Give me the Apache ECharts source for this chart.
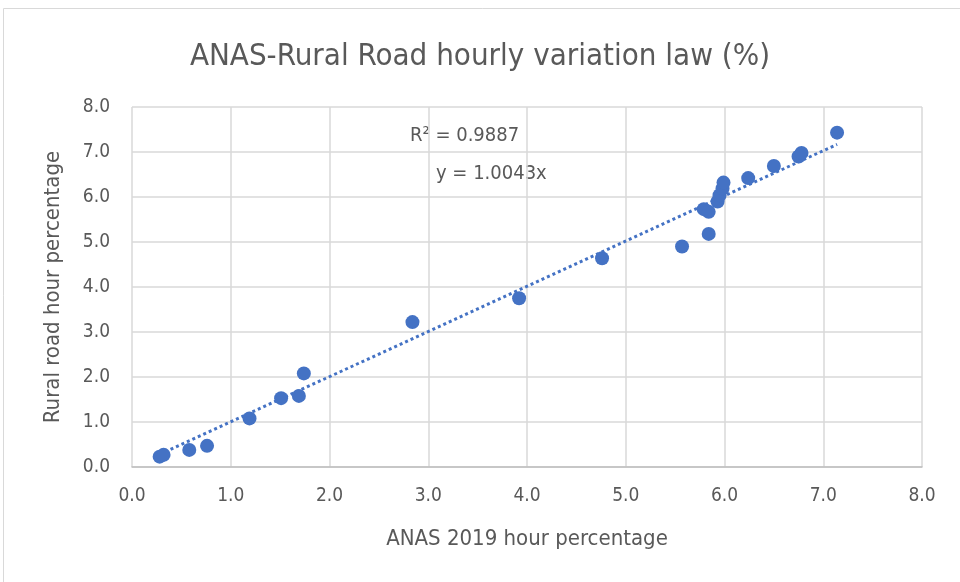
<!DOCTYPE html>
<html>
<head>
<meta charset="UTF-8">
<script src="https://cdn.jsdelivr.net/npm/echarts@6/dist/echarts.min.js"></script>
<style>
  html, body { margin: 0; padding: 0; background: #fff; }
  #c { width: 960px; height: 582px; }
</style>
</head>
<body>
<div id="c"></div>
<script>
// ANAS 2019 hour % (x) vs rural road hour % (y), 24 hours
const anasX = [0.28, 0.32, 0.58, 0.76, 1.19, 1.51, 1.69, 1.74, 2.84, 3.92, 4.76, 5.57,
               5.84, 5.79, 5.84, 5.93, 5.95, 5.98, 5.99, 6.24, 6.50, 6.75, 6.78, 7.14];
const ruralY = [0.23, 0.27, 0.38, 0.47, 1.08, 1.53, 1.58, 2.08, 3.22, 3.75, 4.64, 4.90,
                5.18, 5.73, 5.67, 5.90, 6.04, 6.19, 6.32, 6.42, 6.69, 6.90, 6.98, 7.43];
// linear trend through origin, y = 1.0043x
const trendX = [0.28, 7.14];
const trendY = [0.28, 7.17];
const axisTicks = ['0.0', '1.0', '2.0', '3.0', '4.0', '5.0', '6.0', '7.0', '8.0'];

const font = "'Liberation Sans Narrow', 'DejaVu Sans Condensed', 'Roboto', sans-serif";
const grey = '#595959';

const chart = echarts.init(document.getElementById('c'), null, { renderer: 'canvas' });

chart.setOption({
    animation: false,
    title: {
        text: 'ANAS-Rural Road hourly variation law (%)',
        left: 'center',
        top: 36,
        textStyle: { fontFamily: font, fontSize: 31, fontWeight: 'normal', color: grey }
    },
    graphic: [
        {
            type: 'rect',
            shape: { x: 3.5, y: 8.5, width: 970, height: 600 },
            style: { fill: 'none', stroke: '#d9d9d9', lineWidth: 1 },
            silent: true
        },
        {
            type: 'text', left: 410, top: 126,
            style: { text: 'R² = 0.9887', font: '20px ' + font, fill: grey }
        },
        {
            type: 'text', left: 436, top: 164,
            style: { text: 'y = 1.0043x', font: '20px ' + font, fill: grey }
        }
    ],
    grid: { left: 132, right: 38, top: 107, bottom: 115 },
    xAxis: {
        type: 'value', min: 0, max: 8, interval: 1,
        name: 'ANAS 2019 hour percentage',
        nameLocation: 'middle', nameGap: 61,
        nameTextStyle: { fontFamily: font, fontSize: 22, color: grey },
        axisLine: { show: true, lineStyle: { color: '#bfbfbf', width: 1.5 } },
        axisTick: { show: false },
        splitLine: { lineStyle: { color: '#d9d9d9', width: 1.5 } },
        axisLabel: {
            fontFamily: font, fontSize: 19, color: grey, margin: 20,
            formatter: v => axisTicks[Math.round(v)]
        }
    },
    yAxis: {
        type: 'value', min: 0, max: 8, interval: 1,
        name: 'Rural road hour percentage',
        nameLocation: 'middle', nameGap: 68,
        nameTextStyle: { fontFamily: font, fontSize: 22, color: grey },
        axisLine: { show: false },
        axisTick: { show: false },
        splitLine: { lineStyle: { color: '#d9d9d9', width: 1.5 } },
        axisLabel: {
            fontFamily: font, fontSize: 19, color: grey, margin: 22,
            formatter: v => axisTicks[Math.round(v)]
        }
    },
    series: [
        {
            type: 'line',
            data: trendX.map((x, i) => [x, trendY[i]]),
            showSymbol: false,
            lineStyle: { color: '#4472C4', width: 3, type: [3, 3] },
            z: 3
        },
        {
            type: 'scatter',
            data: anasX.map((x, i) => [x, ruralY[i]]),
            symbolSize: 14,
            itemStyle: { color: '#4472C4', opacity: 1 },
            z: 4
        }
    ]
});
</script>
</body>
</html>
